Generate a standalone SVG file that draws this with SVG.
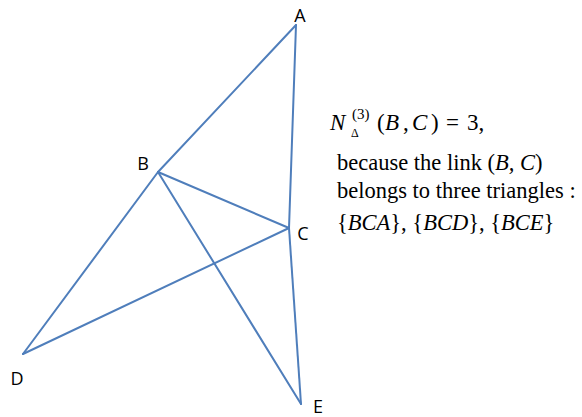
<svg xmlns="http://www.w3.org/2000/svg" width="582" height="417" viewBox="0 0 582 417">
<style>
.e{stroke:#4F7EBB;stroke-width:2;fill:none;stroke-linecap:round}
.lbl{font-family:"Open Sans","Liberation Sans",sans-serif;font-size:18px;fill:#000}
.t{font-family:"Liberation Serif",serif;font-size:22.5px;fill:#000}
.m{font-family:"Liberation Serif",serif;font-size:23px;fill:#000}
.i{font-style:italic}
</style>
<rect width="582" height="417" fill="#fff"/>
<g id="connectors">
<line class="e" x1="296" y1="25" x2="158" y2="172"/>
<line class="e" x1="296" y1="25" x2="289" y2="228"/>
<line class="e" x1="158" y1="172" x2="289" y2="228"/>
<line class="e" x1="158" y1="172" x2="23" y2="354"/>
<line class="e" x1="158" y1="172" x2="301" y2="404"/>
<line class="e" x1="23" y1="354" x2="289" y2="228"/>
<line class="e" x1="289" y1="228" x2="301" y2="404"/>
</g>
<g id="A"><text class="lbl" x="300" y="22" text-anchor="middle">A</text></g>
<g id="B"><text class="lbl" x="143" y="170" text-anchor="middle">B</text></g>
<g id="C"><text class="lbl" x="303" y="240" text-anchor="middle">C</text></g>
<g id="D"><text class="lbl" x="17" y="385" text-anchor="middle">D</text></g>
<g id="E"><text class="lbl" x="318" y="413" text-anchor="middle">E</text></g>
<g id="caption">
<text class="m i" x="330" y="130">N</text>
<text x="351" y="137" font-family="Liberation Serif,serif" font-size="12">Δ</text>
<text x="352" y="119" font-family="Liberation Serif,serif" font-size="15">(3)</text>
<text class="m" y="130"><tspan x="377">(</tspan><tspan class="i" x="385">B</tspan><tspan x="403">,</tspan><tspan class="i" x="412">C</tspan><tspan x="431">)</tspan><tspan x="446">=</tspan><tspan x="467">3,</tspan></text>
<text class="t" x="337" y="170">because the link (<tspan class="i">B, C</tspan>)</text>
<text class="t" x="337" y="198">belongs to three triangles :</text>
<text class="t" x="337" y="230">{<tspan class="i">BCA</tspan>}, {<tspan class="i">BCD</tspan>}, {<tspan class="i">BCE</tspan>}</text>
</g>
</svg>
